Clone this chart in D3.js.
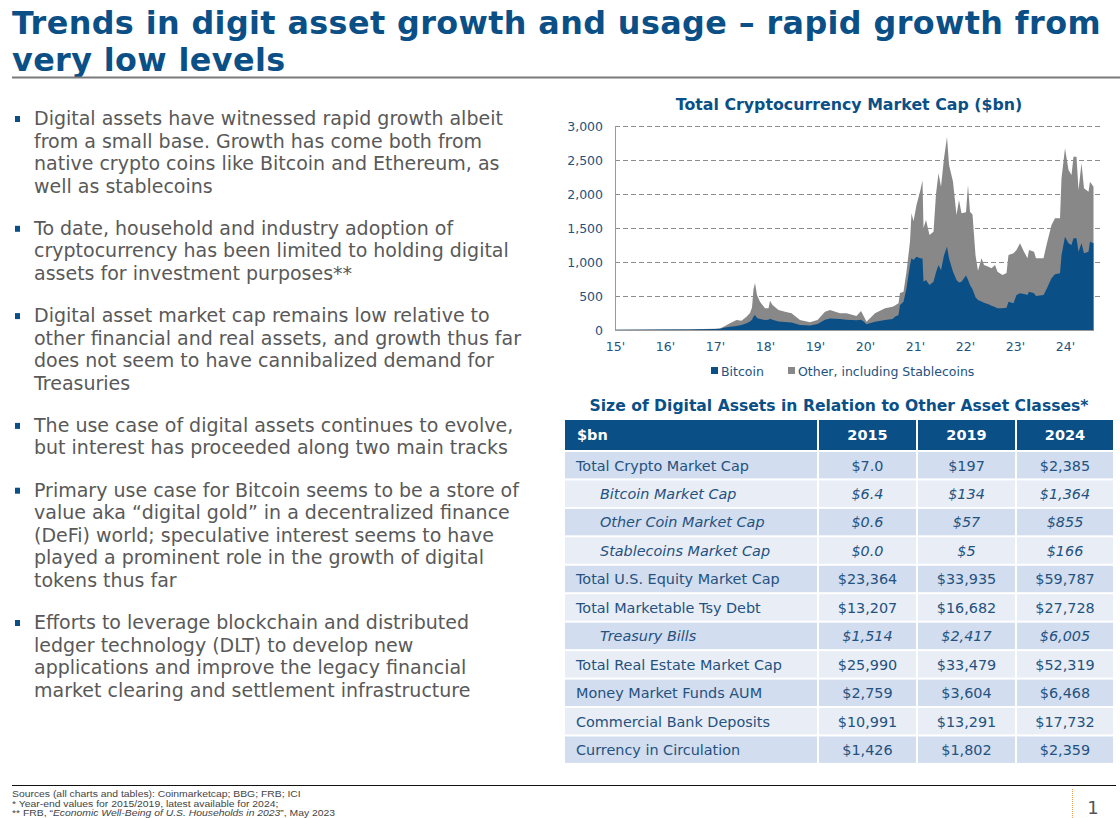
<!DOCTYPE html>
<html>
<head>
<meta charset="utf-8">
<script src="https://cdn.jsdelivr.net/npm/d3@7"></script>
<style>
  body { margin: 0; background: #fff; }
  svg { display: block; font-family: "DejaVu Sans", Verdana, sans-serif; }
</style>
</head>
<body>
<svg id="slide" width="1120" height="818"></svg>
<script>
// ---- data ----
var titleLines = ['Trends in digit asset growth and usage \u2013 rapid growth from', 'very low levels'];

var bullets = [
  ['Digital assets have witnessed rapid growth albeit', 'from a small base. Growth has come both from', 'native crypto coins like Bitcoin and Ethereum, as', 'well as stablecoins'],
  ['To date, household and industry adoption of', 'cryptocurrency has been limited to holding digital', 'assets for investment purposes**'],
  ['Digital asset market cap remains low relative to', 'other financial and real assets, and growth thus far', 'does not seem to have cannibalized demand for', 'Treasuries'],
  ['The use case of digital assets continues to evolve,', 'but interest has proceeded along two main tracks'],
  ['Primary use case for Bitcoin seems to be a store of', 'value aka \u201cdigital gold\u201d in a decentralized finance', '(DeFi) world; speculative interest seems to have', 'played a prominent role in the growth of digital', 'tokens thus far'],
  ['Efforts to leverage blockchain and distributed', 'ledger technology (DLT) to develop new', 'applications and improve the legacy financial', 'market clearing and settlement infrastructure']
];

// decimal year, as placed on the chart's axis
var dates = [2015.00, 2015.50, 2016.00, 2016.50, 2017.00, 2017.10, 2017.20, 2017.30, 2017.43, 2017.53,
  2017.63, 2017.70, 2017.74, 2017.77, 2017.80, 2017.84, 2017.90, 2018.00, 2018.07, 2018.10,
  2018.15, 2018.27, 2018.40, 2018.53, 2018.70, 2018.90, 2019.05, 2019.20, 2019.30, 2019.50,
  2019.63, 2019.83, 2019.92, 2019.98, 2020.03, 2020.20, 2020.40, 2020.55, 2020.60, 2020.67,
  2020.70, 2020.77, 2020.83, 2020.90, 2020.93, 2020.97, 2021.03, 2021.10, 2021.15, 2021.17,
  2021.22, 2021.29, 2021.37, 2021.42, 2021.47, 2021.52, 2021.58, 2021.64, 2021.68, 2021.76,
  2021.83, 2021.88, 2021.93, 2022.02, 2022.06, 2022.10, 2022.15, 2022.21, 2022.26, 2022.33,
  2022.38, 2022.47, 2022.53, 2022.60, 2022.65, 2022.75, 2022.83, 2022.87, 2022.97, 2023.03,
  2023.10, 2023.18, 2023.25, 2023.28, 2023.38, 2023.42, 2023.57, 2023.63, 2023.73, 2023.80,
  2023.90, 2023.93, 2024.00, 2024.07, 2024.13, 2024.17, 2024.23, 2024.27, 2024.33, 2024.38,
  2024.47, 2024.50, 2024.57];

// total market cap ($bn) = top of the grey area
var total = [5, 6, 7, 11, 17, 22, 59, 98, 147, 137,
  196, 250, 330, 600, 690, 515, 417, 319, 320, 431,
  368, 294, 270, 245, 147, 113, 147, 270, 294, 245,
  245, 206, 280, 196, 122, 245, 319, 343, 360, 392,
  545, 564, 858, 1300, 1716, 1600, 1838, 2034, 2200, 1500,
  1618, 1397, 1446, 2000, 2304, 2108, 2525, 2840, 2430, 2181,
  1691, 1912, 1716, 1730, 2132, 1740, 1700, 1100, 870, 1054,
  956, 931, 907, 956, 858, 809, 840, 1103, 1127, 1176,
  1274, 1152, 1054, 1176, 1152, 1054, 1054, 1250, 1544, 1642,
  1642, 2230, 2672, 2353, 2279, 2549, 2549, 2059, 2451, 2083,
  2034, 2181, 2108];

// bitcoin market cap ($bn)
var bitcoin = [4, 5, 6, 9, 14, 18, 38, 48, 60, 72,
  100, 125, 150, 200, 220, 175, 160, 147, 150, 165,
  150, 125, 118, 112, 73, 68, 90, 150, 170, 160,
  150, 145, 150, 120, 85, 122, 147, 160, 196, 221,
  368, 417, 613, 956, 1054, 1030, 1078, 1054, 1050, 711,
  735, 662, 711, 850, 956, 880, 1100, 1225, 1054, 858,
  735, 700, 711, 800, 740, 662, 600, 480, 441, 420,
  400, 380, 358, 340, 319, 319, 328, 417, 392, 515,
  539, 530, 515, 564, 539, 500, 515, 600, 760, 820,
  833, 1100, 1373, 1274, 1250, 1348, 1348, 1152, 1274, 1127,
  1150, 1299, 1274];

var yTicks = [0, 500, 1000, 1500, 2000, 2500, 3000];
var xTicks = [2015, 2016, 2017, 2018, 2019, 2020, 2021, 2022, 2023, 2024];
var xTickLabels = ["15'", "16'", "17'", "18'", "19'", "20'", "21'", "22'", "23'", "24'"];
var seriesNames = ['Bitcoin', 'Other, including Stablecoins'];

var tableHead = ['$bn', '2015', '2019', '2024'];
var rowLabels = ['Total Crypto Market Cap', 'Bitcoin Market Cap', 'Other Coin Market Cap', 'Stablecoins Market Cap',
  'Total U.S. Equity Market Cap', 'Total Marketable Tsy Debt', 'Treasury Bills', 'Total Real Estate Market Cap',
  'Money Market Funds AUM', 'Commercial Bank Deposits', 'Currency in Circulation'];
var val2015 = ['$7.0', '$6.4', '$0.6', '$0.0', '$23,364', '$13,207', '$1,514', '$25,990', '$2,759', '$10,991', '$1,426'];
var val2019 = ['$197', '$134', '$57', '$5', '$33,935', '$16,682', '$2,417', '$33,479', '$3,604', '$13,291', '$1,802'];
var val2024 = ['$2,385', '$1,364', '$855', '$166', '$59,787', '$27,728', '$6,005', '$52,319', '$6,468', '$17,732', '$2,359'];
var subRows = ['Bitcoin Market Cap', 'Other Coin Market Cap', 'Stablecoins Market Cap', 'Treasury Bills'];

var footLines = ['Sources (all charts and tables): Coinmarketcap; BBG; FRB; ICI',
  '* Year-end values for 2015/2019, latest available for 2024;'];

// ---- colours ----
var navy = '#0b4f87';
var grey = '#888888';
var textGrey = '#595959';
var tableText = '#24527f';

var svg = d3.select('#slide');

// title
svg.append('g').selectAll('text')
  .data(titleLines)
  .enter().append('text')
  .attr('x', 12)
  .attr('y', function(d, i){ return 33.5 + i * 37.1; })
  .style('font-size', '31.8px')
  .style('letter-spacing', '0.4px')
  .style('font-weight', 'bold')
  .style('fill', navy)
  .text(function(d){ return d; });

svg.append('line')
  .attr('x1', 12).attr('x2', 1120)
  .attr('y1', 77.5).attr('y2', 77.5)
  .style('stroke', '#7a7a7a')
  .style('stroke-width', 2);

// bullets
var lineH = 22.5, paraGap = 19.8, yCursor = 125;
var bulletG = svg.append('g');
bullets.forEach(function(lines){
  bulletG.append('rect')
    .attr('x', 15).attr('y', yCursor - 9)
    .attr('width', 5).attr('height', 6)
    .style('fill', navy);
  lines.forEach(function(l, j){
    bulletG.append('text')
      .attr('x', 34)
      .attr('y', yCursor + j * lineH)
      .style('font-size', '19px')
      .style('fill', textGrey)
      .text(l);
  });
  yCursor += lines.length * lineH + paraGap;
});

// ---- area chart ----
var x = d3.scaleLinear().domain([2015, 2024]).range([615, 1065]);
var y = d3.scaleLinear().domain([0, 3000]).range([330, 126]);

svg.append('text')
  .attr('x', 849).attr('y', 110)
  .attr('text-anchor', 'middle')
  .style('font-size', '15.8px')
  .style('font-weight', 'bold')
  .style('fill', navy)
  .text('Total Cryptocurrency Market Cap ($bn)');

var yAxis = svg.append('g')
  .attr('transform', 'translate(615,0)')
  .call(d3.axisLeft(y).tickValues(yTicks).tickSize(0).tickPadding(12).tickFormat(d3.format(',')));
yAxis.select('.domain').remove();
yAxis.selectAll('text')
  .style('font-family', '"DejaVu Sans", Verdana, sans-serif')
  .style('font-size', '12.5px')
  .style('fill', tableText);

svg.append('g').selectAll('line')
  .data(yTicks.filter(function(d){ return d > 0; }))
  .enter().append('line')
  .attr('x1', 615).attr('x2', 1100)
  .attr('y1', function(d){ return Math.round(y(d)) + 0.5; })
  .attr('y2', function(d){ return Math.round(y(d)) + 0.5; })
  .style('stroke', '#8c8c8c')
  .style('stroke-width', 1)
  .style('stroke-dasharray', '5,3');

var pts = dates.map(function(d, i){ return {t: d, total: total[i], btc: bitcoin[i]}; });

svg.append('path')
  .datum(pts)
  .attr('d', d3.area().x(function(d){ return x(d.t); }).y0(y(0)).y1(function(d){ return y(d.total); }))
  .style('fill', grey);

svg.append('path')
  .datum(pts)
  .attr('d', d3.area().x(function(d){ return x(d.t); }).y0(y(0)).y1(function(d){ return y(d.btc); }))
  .style('fill', navy);

svg.append('line')
  .attr('x1', 615.5).attr('x2', 615.5)
  .attr('y1', 126).attr('y2', 330)
  .style('stroke', '#9a9a9a');
svg.append('line')
  .attr('x1', 615).attr('x2', 1094)
  .attr('y1', 330.5).attr('y2', 330.5)
  .style('stroke', '#9a9a9a');

var xAxis = svg.append('g')
  .attr('transform', 'translate(0,330)')
  .call(d3.axisBottom(x).tickValues(xTicks).tickSize(0).tickPadding(12)
    .tickFormat(function(d, i){ return xTickLabels[i]; }));
xAxis.select('.domain').remove();
xAxis.selectAll('text')
  .style('font-family', '"DejaVu Sans", Verdana, sans-serif')
  .style('font-size', '12.5px')
  .style('fill', tableText);

// legend
var legend = svg.append('g');
var legX = [711, 788];
seriesNames.forEach(function(name, i){
  legend.append('rect')
    .attr('x', legX[i]).attr('y', 367)
    .attr('width', 7).attr('height', 7)
    .style('fill', i === 0 ? navy : grey);
  legend.append('text')
    .attr('x', legX[i] + 10).attr('y', 375.5)
    .style('font-size', '12.5px')
    .style('fill', tableText)
    .text(name);
});

// ---- table ----
svg.append('text')
  .attr('x', 839).attr('y', 411)
  .attr('text-anchor', 'middle')
  .style('font-size', '15.6px')
  .style('font-weight', 'bold')
  .style('fill', navy)
  .text('Size of Digital Assets in Relation to Other Asset Classes*');

var colEdges = [565, 819, 918, 1017, 1115];
var headTop = 420, headH = 30, rowTop = 452, rowPitch = 28.45, rowH = 26.4;

var table = svg.append('g');
tableHead.forEach(function(h, c){
  table.append('rect')
    .attr('x', colEdges[c]).attr('y', headTop)
    .attr('width', colEdges[c + 1] - colEdges[c] - 2).attr('height', headH)
    .style('fill', navy);
  table.append('text')
    .attr('x', c === 0 ? 577 : (colEdges[c] + colEdges[c + 1] - 2) / 2)
    .attr('y', headTop + 20)
    .attr('text-anchor', c === 0 ? 'start' : 'middle')
    .style('font-size', '14.5px')
    .style('font-weight', 'bold')
    .style('fill', '#ffffff')
    .text(h);
});

rowLabels.forEach(function(label, r){
  var top = rowTop + r * rowPitch;
  var sub = subRows.indexOf(label) >= 0;
  var cells = [label, val2015[r], val2019[r], val2024[r]];
  cells.forEach(function(v, c){
    table.append('rect')
      .attr('x', colEdges[c]).attr('y', top)
      .attr('width', colEdges[c + 1] - colEdges[c] - 2).attr('height', rowH)
      .style('fill', r % 2 === 0 ? '#d2ddef' : '#e8edf6');
    table.append('text')
      .attr('x', c === 0 ? (sub ? 600 : 576) : (colEdges[c] + colEdges[c + 1] - 2) / 2)
      .attr('y', top + 18.5)
      .attr('text-anchor', c === 0 ? 'start' : 'middle')
      .style('font-size', '14.4px')
      .style('font-style', sub ? 'italic' : 'normal')
      .style('fill', tableText)
      .text(v);
  });
});

// ---- footer ----
svg.append('line')
  .attr('x1', 12).attr('x2', 1116)
  .attr('y1', 785.5).attr('y2', 785.5)
  .style('stroke', '#111')
  .style('stroke-width', 1.2);

// condensed-looking small print: normal face stretched a little sideways
var foot = svg.append('g')
  .attr('transform', 'translate(12,0) scale(1.18,1)')
  .style('font-family', '"Liberation Sans", Arial, sans-serif')
  .style('font-size', '8.8px')
  .style('fill', '#444');
footLines.forEach(function(l, i){
  foot.append('text').attr('x', 0).attr('y', 797.5 + i * 9.2).text(l);
});
var last = foot.append('text').attr('x', 0).attr('y', 815.9);
last.append('tspan').text('** FRB, \u201c');
last.append('tspan').style('font-style', 'italic').text('Economic Well-Being of U.S. Households in 2023');
last.append('tspan').text('\u201d, May 2023');

svg.append('line')
  .attr('x1', 1072.5).attr('x2', 1072.5)
  .attr('y1', 789).attr('y2', 818)
  .style('stroke', '#e8a14a')
  .style('stroke-dasharray', '1,1');
svg.append('text')
  .attr('x', 1093).attr('y', 814)
  .attr('text-anchor', 'middle')
  .style('font-size', '18px')
  .style('fill', '#555')
  .text('1');
</script>
</body>
</html>
